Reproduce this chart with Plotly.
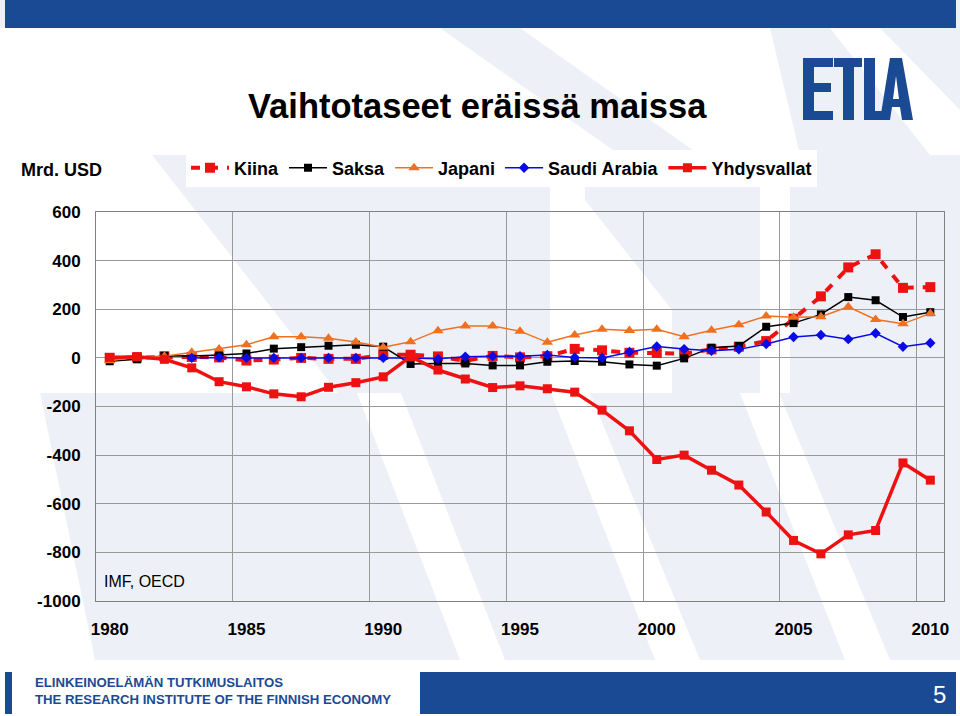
import plotly.graph_objects as go

# ---------------- data ----------------
years = list(range(1980, 2011))
tick_years = [1980, 1985, 1990, 1995, 2000, 2005, 2010]
y_ticks = [600, 400, 200, 0, -200, -400, -600, -800, -1000]

kiina = [0, 2, 6, 4, 2, -11, -7, 0, -4, -4, 12, 13, 6, -12, 8, 2, 7, 37, 31, 21,
         20, 17, 35, 46, 69, 161, 253, 372, 426, 288, 291]
saksa = [-14, -6, 9, 8, 12, 18, 38, 44, 50, 54, 46, -25, -23, -23, -31, -31, -16, -13, -16, -27,
         -32, -2, 42, 49, 128, 143, 179, 250, 237, 168, 188]
japani = [-12, 4, 7, 23, 36, 54, 87, 87, 81, 65, 44, 66, 112, 131, 131, 110, 64, 94, 118, 113,
          118, 87, 114, 136, 172, 167, 169, 210, 158, 140, 183]
saudi = [None, None, None, 0, 2, 0, 0, 0, 0, 0, 0, 0, -4, 5, 7, 7, 12, 2, 0, 24,
         47, 36, 29, 35, 57, 86, 94, 77, 101, 46, 61]
usa = [2, 5, -6, -41, -98, -119, -148, -160, -121, -102, -78, 5, -50, -87, -122, -115, -127, -141, -215, -300,
       -418, -400, -462, -523, -634, -751, -806, -728, -710, -432, -503]

# ---------------- layout geometry ----------------
W, H = 960, 716
L, R, T, B = 96, 16, 212, 115
PW, PH = W - L - R, H - T - B
FONT = "Liberation Sans, Arial, sans-serif"
BLUE = "#1b4a94"
GRAYBG = "#edf1f7"


def px(x):
    return (x - L) / PW


def py(y):
    return (H - B - y) / PH


def poly(points, color, layer="below"):
    path = "M " + " L ".join(f"{px(x):.5f},{py(y):.5f}" for x, y in points) + " Z"
    return dict(type="path", xref="paper", yref="paper", path=path,
                fillcolor=color, line=dict(width=0), layer=layer)


def rect(x0, y0, x1, y1, color, layer="below"):
    return dict(type="rect", xref="paper", yref="paper", x0=px(x0), x1=px(x1),
                y0=py(y1), y1=py(y0), fillcolor=color, line=dict(width=0), layer=layer)


shapes = []
# background decoration (white regions on light blue-gray)
shapes.append(rect(0, 28, 960, 155, "white"))
shapes.append(poly([(440, 28), (520, 28), (700, 155), (620, 155)], GRAYBG))
shapes.append(poly([(770, 28), (960, 28), (960, 155), (800, 155)], GRAYBG))
shapes.append(poly([(830, 28), (880, 28), (960, 110), (960, 155), (930, 155)], "white"))
shapes.append(poly([(0, 155), (152, 155), (338, 393), (0, 393)], "white"))
shapes.append(poly([(550, 155), (585, 155), (585, 200), (672, 310), (672, 393), (550, 393)], "white"))
shapes.append(poly([(760, 155), (790, 155), (790, 393), (760, 393)], "white"))
shapes.append(poly([(0, 393), (40, 393), (95, 660), (0, 660)], "white"))
shapes.append(poly([(357, 393), (401, 393), (505, 660), (460, 660)], "white"))
shapes.append(poly([(551, 393), (590, 393), (700, 660), (655, 660)], "white"))
shapes.append(poly([(740, 393), (779, 393), (890, 660), (845, 660)], "white"))
shapes.append(rect(0, 660, 960, 716, "white"))

# header / footer bars
shapes.append(rect(5, 0, 956, 28, BLUE, "above"))
shapes.append(rect(5, 672, 12, 714, BLUE, "above"))
shapes.append(rect(420, 672, 956, 714, BLUE, "above"))

# ETLA logo
logo = [
    [(803, 58), (833, 58), (833, 67), (814, 67), (814, 83), (831, 83), (831, 92), (814, 92),
     (814, 111), (833, 111), (833, 120), (803, 120)],
    [(834, 58), (862, 58), (862, 67), (854, 67), (854, 120), (843, 120), (843, 67), (834, 67)],
    [(864, 58), (875, 58), (875, 111), (887, 111), (887, 120), (864, 120)],
]
for p in logo:
    shapes.append(poly(p, BLUE, "above"))
a_outer = [(880, 120), (890, 58), (902, 58), (913, 120), (902, 120), (900, 107), (892, 107), (890, 120)]
a_inner = [(893, 99), (899, 99), (896, 76)]
a_path = ("M " + " L ".join(f"{px(x):.5f},{py(y):.5f}" for x, y in a_outer) + " Z "
          + "M " + " L ".join(f"{px(x):.5f},{py(y):.5f}" for x, y in a_inner) + " Z")
shapes.append(dict(type="path", xref="paper", yref="paper", path=a_path,
                   fillcolor=BLUE, line=dict(width=0), layer="above"))

# ---------------- traces ----------------
fig = go.Figure()
fig.add_trace(go.Scatter(x=years, y=kiina, name="Kiina", mode="lines+markers",
                         line=dict(color="#ee1111", width=4, dash="9px,9px"),
                         marker=dict(symbol="square", size=10, color="#ee1111")))
fig.add_trace(go.Scatter(x=years, y=saksa, name="Saksa", mode="lines+markers",
                         line=dict(color="black", width=1.5),
                         marker=dict(symbol="square", size=8, color="black")))
fig.add_trace(go.Scatter(x=years, y=japani, name="Japani", mode="lines+markers",
                         line=dict(color="#f07020", width=1.5),
                         marker=dict(symbol="triangle-up", size=10, color="#f07020")))
fig.add_trace(go.Scatter(x=years, y=saudi, name="Saudi Arabia", mode="lines+markers",
                         line=dict(color="#0a0ae6", width=1.5),
                         marker=dict(symbol="diamond", size=8, color="#0a0ae6")))
fig.add_trace(go.Scatter(x=years, y=usa, name="Yhdysvallat", mode="lines+markers",
                         line=dict(color="#ee1111", width=3.5),
                         marker=dict(symbol="square", size=9, color="#ee1111")))

grid_x = [y - 0.5 for y in tick_years[1:]]

fig.update_layout(
    width=W, height=H,
    margin=dict(l=L, r=R, t=T, b=B, pad=0),
    paper_bgcolor=GRAYBG,
    plot_bgcolor="rgba(0,0,0,0)",
    font=dict(family=FONT, color="black"),
    showlegend=True,
    legend=dict(orientation="h", x=px(186), xanchor="left", y=py(168), yanchor="middle",
                bgcolor="white", font=dict(size=18, weight="bold", family=FONT),
                itemwidth=38, tracegroupgap=0),
    xaxis=dict(range=[1979.5, 2010.5], tickvals=tick_years, ticktext=[str(t) for t in tick_years],
               showgrid=False, zeroline=False, showline=True, linecolor="#808080", linewidth=1,
               mirror=True, ticks="", tickfont=dict(size=17, weight="bold", family=FONT),
               ticklabelstandoff=13,
               minor=dict(tickvals=grid_x, showgrid=True, gridcolor="#9a9a9a", gridwidth=1, ticks="")),
    yaxis=dict(range=[-1000, 600], tickvals=y_ticks, ticktext=[str(v) for v in y_ticks],
               showgrid=True, gridcolor="#9a9a9a", gridwidth=1, zeroline=False,
               showline=True, linecolor="#808080", linewidth=1, mirror=True, ticks="",
               tickfont=dict(size=17, weight="bold", family=FONT), ticklabelstandoff=11),
    shapes=shapes,
    annotations=[
        dict(text="Vaihtotaseet eräissä maissa", x=px(477), y=py(106), xref="paper", yref="paper",
             showarrow=False, xanchor="center", yanchor="middle",
             font=dict(size=34.5, weight="bold", family=FONT, color="black")),
        dict(text="Mrd. USD", x=px(19), y=py(170), xref="paper", yref="paper",
             showarrow=False, xanchor="left", yanchor="middle",
             font=dict(size=18, weight="bold", family=FONT, color="black")),
        dict(text="IMF, OECD", x=px(102), y=py(581), xref="paper", yref="paper",
             showarrow=False, xanchor="left", yanchor="middle",
             font=dict(size=16, family=FONT, color="black")),
        dict(text="ELINKEINOELÄMÄN TUTKIMUSLAITOS<br>THE RESEARCH INSTITUTE OF THE FINNISH ECONOMY",
             x=px(33), y=py(691), xref="paper", yref="paper", showarrow=False,
             xanchor="left", yanchor="middle", align="left",
             font=dict(size=13.2, weight="bold", family=FONT, color=BLUE)),
        dict(text="5", x=px(948), y=py(694), xref="paper", yref="paper", showarrow=False,
             xanchor="right", yanchor="middle",
             font=dict(size=24, family=FONT, color="white")),
    ],
)

fig.write_html("out.html", config={"displayModeBar": False},
               post_script="document.body.style.margin='0';document.body.style.overflow='hidden';")
